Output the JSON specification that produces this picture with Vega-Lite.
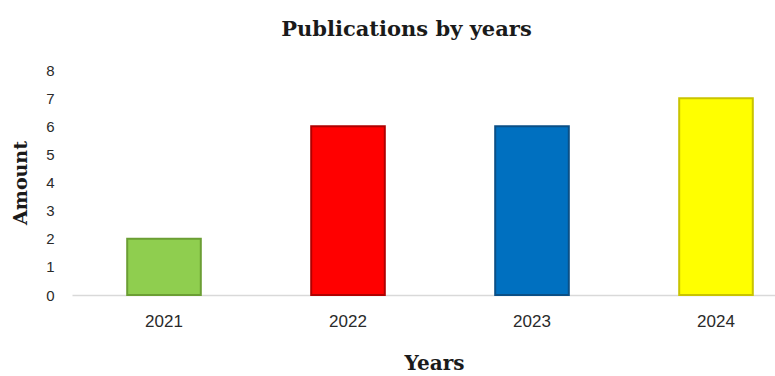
{
  "$schema": "https://vega.github.io/schema/vega-lite/v6.json",
  "autosize": "none",
  "width": 703,
  "height": 225,
  "padding": {"left": 72, "top": 70, "right": 0, "bottom": 81},
  "background": "white",
  "title": {
    "text": "Publications by years",
    "font": "DejaVu Serif",
    "fontSize": 21,
    "fontWeight": "bold",
    "color": "#1a1a1a",
    "anchor": "middle",
    "dx": -17,
    "offset": 23
  },
  "data": {
    "values": [
      {"year": "2021", "amount": 2},
      {"year": "2022", "amount": 6},
      {"year": "2023", "amount": 6},
      {"year": "2024", "amount": 7}
    ]
  },
  "mark": {"type": "bar", "strokeWidth": 2},
  "encoding": {
    "x": {
      "field": "year",
      "type": "nominal",
      "sort": null,
      "scale": {"range": [0, 736], "paddingInner": 0.6, "paddingOuter": 0.3},
      "axis": {
        "title": "Years",
        "titleFont": "DejaVu Serif",
        "titleFontSize": 20,
        "titleFontWeight": "bold",
        "titleColor": "#1a1a1a",
        "titlePadding": 24,
        "titleX": 362,
        "labelAngle": 0,
        "labelFont": "Liberation Sans",
        "labelFontSize": 17,
        "labelColor": "#2a2a2a",
        "labelPadding": 18,
        "ticks": false,
        "domainColor": "#d9d9d9",
        "domainWidth": 1.5,
        "grid": false
      }
    },
    "y": {
      "field": "amount",
      "type": "quantitative",
      "scale": {"domain": [0, 8]},
      "axis": {
        "title": "Amount",
        "titleFont": "DejaVu Serif",
        "titleFontSize": 19,
        "titleFontWeight": "bold",
        "titleColor": "#1a1a1a",
        "titlePadding": 15,
        "values": [0, 1, 2, 3, 4, 5, 6, 7, 8],
        "labelFont": "Liberation Sans",
        "labelFontSize": 15,
        "labelColor": "#2a2a2a",
        "labelPadding": 22,
        "labelAlign": "center",
        "ticks": false,
        "domain": false,
        "grid": false
      }
    },
    "fill": {
      "field": "year",
      "type": "nominal",
      "scale": {"domain": ["2021", "2022", "2023", "2024"], "range": ["#8fce4f", "#ff0000", "#0070c0", "#ffff00"]},
      "legend": null
    },
    "stroke": {
      "field": "year",
      "type": "nominal",
      "scale": {"domain": ["2021", "2022", "2023", "2024"], "range": ["#6b9e34", "#b00000", "#0a4f86", "#c9c400"]},
      "legend": null
    }
  },
  "config": {"view": {"stroke": null}}
}
